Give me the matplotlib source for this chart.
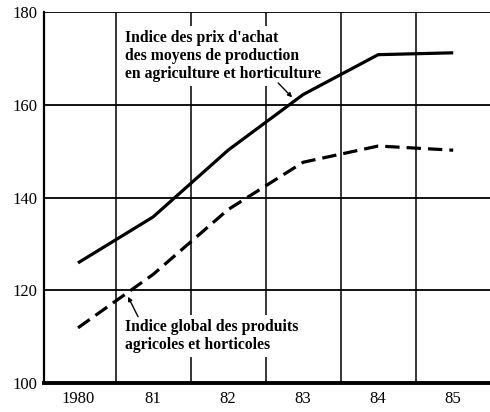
import matplotlib.pyplot as plt
import numpy as np

years = ["1980", "81", "82", "83", "84", "85"]
prix_achat = [125.9, 135.8, 150.2, 162.2, 170.8, 171.2]
indice_global = [111.9, 123.4, 137.4, 147.6, 151.1, 150.2]

plt.rcParams['font.family'] = ['Liberation Serif', 'DejaVu Serif']

fig = plt.figure(figsize=(4.9, 4.12), dpi=100)
ax = fig.add_axes([44 / 490, 29 / 412, 1 - 44 / 490, 371 / 412])

x = np.arange(len(years))
ax.plot(x, prix_achat, color='black', lw=2.3, solid_capstyle='butt', zorder=3)
ax.plot(x, indice_global, color='black', lw=2.3, dashes=(4.5, 2.2), zorder=3)

ax.set_xlim(-0.453, 5.49)
ax.set_ylim(100, 180)
ax.set_xticks(x)
ax.set_xticklabels(years)
ax.set_yticks([100, 120, 140, 160, 180])
ax.tick_params(length=0, labelsize=12, pad=6)
ax.tick_params(axis='y', pad=5)

# grille : verticales entre les annees, horizontales tous les 20
for xv in np.arange(0.5, 5, 1):
    ax.axvline(xv, color='black', lw=1.1, zorder=1)
for yv in [120, 140, 160, 180]:
    ax.axhline(yv, color='black', lw=1.3, zorder=1)

for s in ['top', 'right']:
    ax.spines[s].set_visible(False)
ax.spines['left'].set_linewidth(1.6)
ax.spines['bottom'].set_linewidth(2.8)

boite = dict(boxstyle='square,pad=0.25', fc='white', ec='none')
ax.text(0.63, 176.2, "Indice des prix d'achat\ndes moyens de production\nen agriculture et horticulture",
        fontsize=11.3, fontweight='bold', linespacing=1.2,
        ha='left', va='top', zorder=2, bbox=boite)
ax.text(0.63, 113.8, "Indice global des produits\nagricoles et horticoles",
        fontsize=11.3, fontweight='bold', linespacing=1.2,
        ha='left', va='top', zorder=2, bbox=boite)

fleche = dict(arrowstyle='-|>', color='black', lw=1, mutation_scale=6,
              shrinkA=0, shrinkB=0)
ax.annotate('', xy=(2.853, 161.6), xytext=(2.667, 164.7), arrowprops=fleche, zorder=5)
ax.annotate('', xy=(0.667, 118.6), xytext=(0.8, 114.3), arrowprops=fleche, zorder=5)

fig.savefig('out.png', dpi=100)
